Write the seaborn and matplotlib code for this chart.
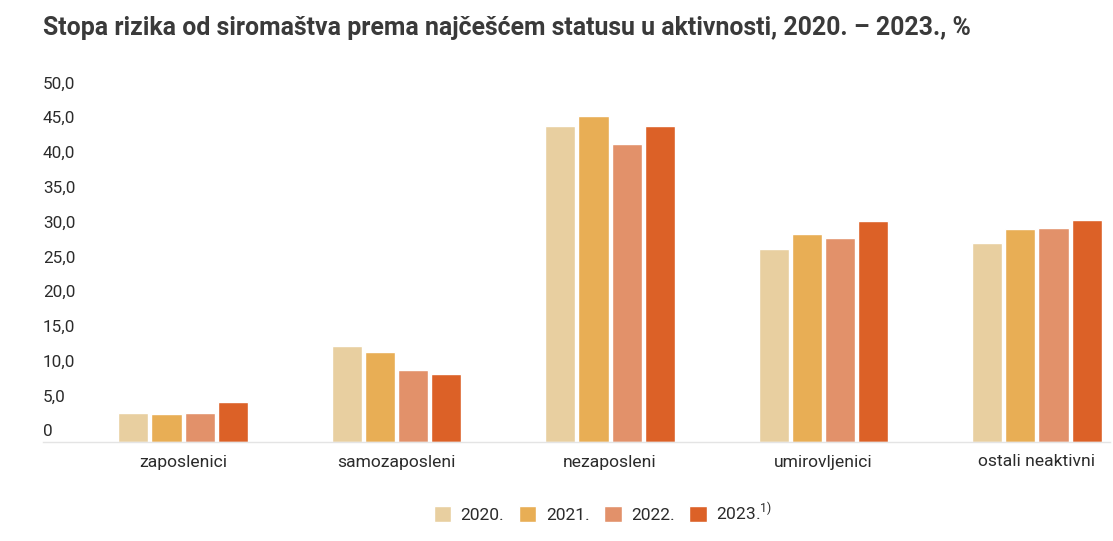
import matplotlib
matplotlib.use("Agg")
import matplotlib.pyplot as plt
import seaborn as sns
import pandas as pd

# data
categories = ["zaposlenici", "samozaposleni", "nezaposleni", "umirovljenici", "ostali neaktivni"]
years = ["2020.", "2021.", "2022.", "2023.$^{\\mathrm{1)}}$"]
v2020 = [4.1, 13.8, 45.4, 27.7, 28.6]
v2021 = [4.0, 13.0, 46.8, 29.9, 30.6]
v2022 = [4.1, 10.3, 42.8, 29.3, 30.8]
v2023 = [5.8, 9.7, 45.4, 31.7, 31.9]
yticks = [0, 5, 10, 15, 20, 25, 30, 35, 40, 45, 50]
ytick_labels = ["0", "5,0", "10,0", "15,0", "20,0", "25,0", "30,0", "35,0", "40,0", "45,0", "50,0"]
colors = ["#e8cfa0", "#e8ae55", "#e2916a", "#dc6127"]

rows = []
for yr, vals in zip(years, [v2020, v2021, v2022, v2023]):
    for cat, v in zip(categories, vals):
        rows.append({"kategorija": cat, "godina": yr, "vrijednost": v})
df = pd.DataFrame(rows)

sns.set_style("white")
plt.rcParams["font.family"] = ["Roboto", "DejaVu Sans"]
plt.rcParams["mathtext.fontset"] = "custom"
plt.rcParams["mathtext.rm"] = "Roboto"

W, H = 1113, 541
fig = plt.figure(figsize=(W / 100, H / 100), dpi=100)
ax = fig.add_axes([43 / W, (H - 442) / H, (1110 - 43) / W, (442 - 94) / H])

sns.barplot(data=df, x="kategorija", y="vrijednost", hue="godina", palette=colors,
            width=0.62, gap=0.09, saturation=1, ax=ax)

ax.set_ylim(0, 50)
ax.set_xlim(-0.656, 4.342)
ax.set_xlabel("")
ax.set_ylabel("")
ax.set_yticks([])
for s in ["top", "right", "left"]:
    ax.spines[s].set_visible(False)
ax.spines["bottom"].set_color("#e4e4e4")
ax.spines["bottom"].set_linewidth(1)
ax.tick_params(axis="x", length=0, pad=9, labelsize=12.6, labelcolor="#2b2b2b")

for v, lab in zip(yticks, ytick_labels):
    ax.annotate(lab, xy=(0, v), xycoords=("axes fraction", "data"),
                xytext=(0, 10), textcoords="offset pixels",
                ha="left", va="center", fontsize=12.3, color="#2b2b2b")

fig.text(43 / W, 1 - 28 / H, "Stopa rizika od siromaštva prema najčešćem statusu u aktivnosti, 2020. – 2023., %",
         ha="left", va="center", fontsize=17.9, fontweight="bold", color="#3a3a3a")

handles, labels = ax.get_legend_handles_labels()
ax.legend_.remove()
fig.legend(handles, labels, loc="center", bbox_to_anchor=(603 / W, 1 - 512 / H), ncol=4,
           frameon=False, fontsize=12.5, handlelength=1.0, handleheight=1.0,
           handletextpad=0.55, columnspacing=0.85, labelcolor="#2b2b2b")

fig.savefig("out.png", dpi=100)
